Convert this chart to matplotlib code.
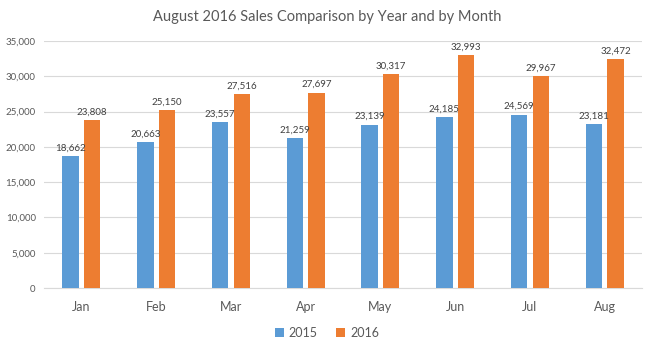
import numpy as np
import matplotlib
matplotlib.use('Agg')
import matplotlib.pyplot as plt

months = ['Jan', 'Feb', 'Mar', 'Apr', 'May', 'Jun', 'Jul', 'Aug']
sales_2015 = [18662, 20663, 23557, 21259, 23139, 24185, 24569, 23181]
sales_2016 = [23808, 25150, 27516, 27697, 30317, 32993, 29967, 32472]
yticks = [0, 5000, 10000, 15000, 20000, 25000, 30000, 35000]

plt.rcParams['font.family'] = ['Lato', 'DejaVu Sans']

fig = plt.figure(figsize=(6.54, 3.5), dpi=100)
ax = fig.add_axes([0.0673, 0.177, 0.9144, 0.706])

x = np.arange(len(months))
w = 0.22
off = 0.145
b1 = ax.bar(x - off, sales_2015, w, color='#5B9BD5', label='2015', zorder=3)
b2 = ax.bar(x + off, sales_2016, w, color='#ED7D31', label='2016', zorder=3)

# value labels above every bar
for bars in (b1, b2):
    for r in bars:
        v = r.get_height()
        ax.text(r.get_x() + r.get_width() / 2, v + 500, f'{v:,}',
                ha='center', va='bottom', fontsize=7, color='#404040')

ax.set_xlim(-0.5, len(months) - 0.5)
ax.set_ylim(0, 35000)
ax.set_yticks(yticks)
ax.set_yticklabels([f'{t:,}' for t in yticks], fontsize=7, color='#595959')
ax.set_xticks(x)
ax.set_xticklabels(months, fontsize=9, color='#595959')
ax.tick_params(axis='both', length=0)
ax.tick_params(axis='x', pad=9)
ax.tick_params(axis='y', pad=6)
ax.grid(axis='y', color='#D9D9D9', linewidth=0.8, zorder=0)
for s in ['top', 'right', 'left']:
    ax.spines[s].set_visible(False)
ax.spines['bottom'].set_color('#D9D9D9')

fig.suptitle('August 2016 Sales Comparison by Year and by Month',
             fontsize=10.5, color='#595959', y=0.97)

fig.legend(loc='lower center', bbox_to_anchor=(0.5, 0.0), ncol=2,
           frameon=False, fontsize=9, handlelength=0.7, handleheight=0.7,
           handletextpad=0.4, columnspacing=1.5, labelcolor='#595959')

fig.savefig('out.png', dpi=100)
